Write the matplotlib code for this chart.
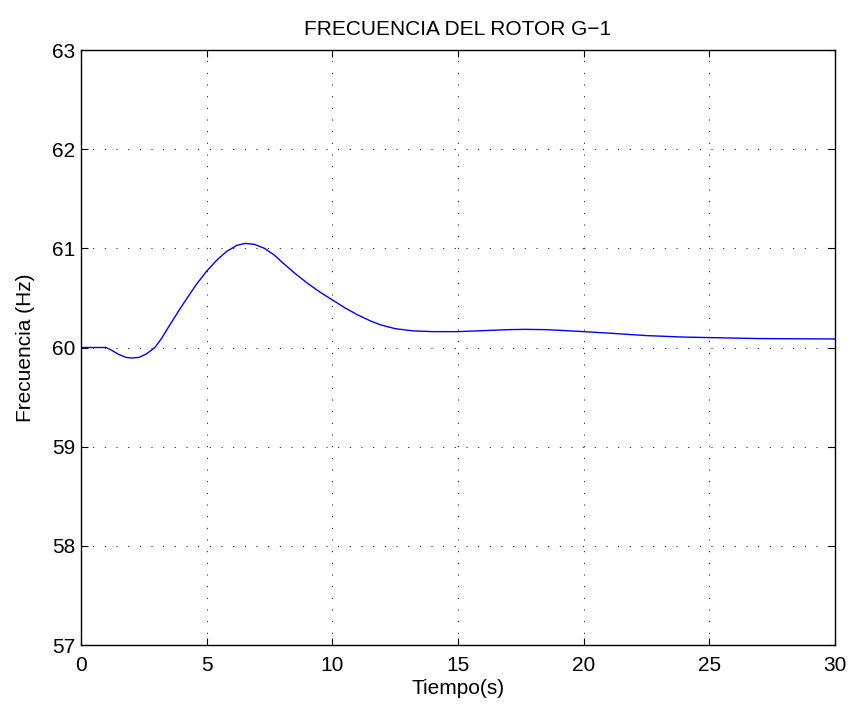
import matplotlib
matplotlib.use("Agg")
import matplotlib.pyplot as plt

# rotor frequency of G-1
tiempo = [0, 1.0, 1.2, 1.5, 1.8, 2.0, 2.3, 2.6, 2.94, 3.2, 3.54, 3.9, 4.2, 4.6,
          5.0, 5.4, 5.8, 6.2, 6.53, 6.9, 7.3, 7.7, 8.0, 8.5, 9.0, 9.5, 10.0,
          10.5, 11.0, 11.5, 11.9, 12.5, 13.2, 14.0, 15.0, 16.0, 17.0, 17.7,
          18.5, 19.3, 20.0, 21.0, 22.5, 24.0, 25.0, 27.0, 30.0]
frecuencia = [60.0, 60.0, 59.975, 59.93, 59.90, 59.894, 59.90, 59.935, 60.0,
              60.09, 60.23, 60.375, 60.49, 60.64, 60.77, 60.88, 60.97, 61.03,
              61.05, 61.04, 61.00, 60.93, 60.86, 60.75, 60.65, 60.56, 60.48,
              60.40, 60.33, 60.27, 60.23, 60.19, 60.168, 60.16, 60.16, 60.17,
              60.18, 60.183, 60.18, 60.17, 60.16, 60.145, 60.12, 60.105, 60.10,
              60.09, 60.086]

x_ticks = [0, 5, 10, 15, 20, 25, 30]
y_ticks = [57, 58, 59, 60, 61, 62, 63]

plt.rcParams['font.family'] = ['Liberation Sans', 'DejaVu Sans']
fs = 15

fig = plt.figure(figsize=(8.53, 7.09), dpi=100)
ax = fig.add_axes([81 / 853, 1 - 645 / 709, 754 / 853, 595 / 709])

ax.plot(tiempo, frecuencia, color='#0000ff', linewidth=1.0)

ax.set_xlim(0, 30)
ax.set_ylim(57, 63)
ax.set_xticks(x_ticks)
ax.set_yticks(y_ticks)
ax.grid(True, color='black', linestyle=(0, (1, 11)), linewidth=0.7)
ax.tick_params(direction='in', length=5, top=True, right=True, labelsize=fs)
ax.tick_params(axis='x', pad=8)
ax.tick_params(axis='y', pad=4)
for sp in ax.spines.values():
    sp.set_linewidth(1.0)

ax.set_title('FRECUENCIA DEL ROTOR G\u22121', fontsize=fs, pad=11)
ax.set_xlabel('Tiempo(s)', fontsize=fs, labelpad=3)
ax.set_ylabel('Frecuencia (Hz)', fontsize=fs, labelpad=12)

fig.savefig('out.png', dpi=100)
